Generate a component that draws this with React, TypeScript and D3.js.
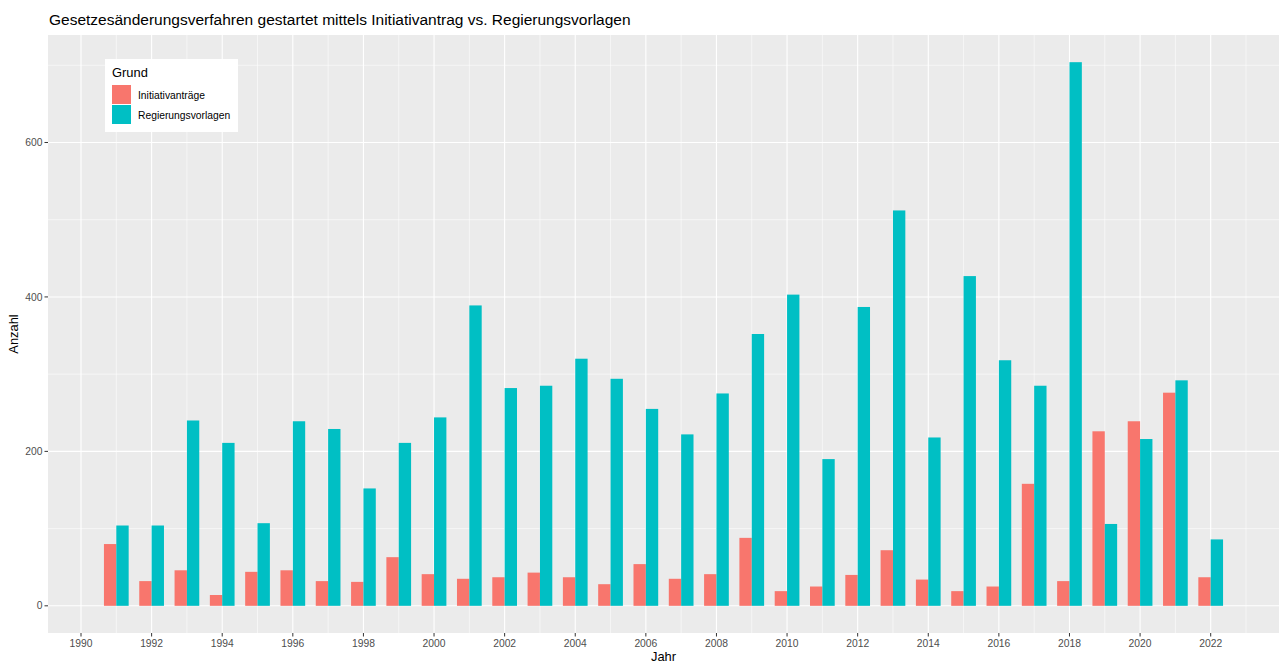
import React, { useRef, useEffect } from "react";
import * as d3 from "d3";

const years = [
  1991, 1992, 1993, 1994, 1995, 1996, 1997, 1998, 1999, 2000, 2001, 2002, 2003, 2004, 2005, 2006,
  2007, 2008, 2009, 2010, 2011, 2012, 2013, 2014, 2015, 2016, 2017, 2018, 2019, 2020, 2021, 2022,
];
const initiativantraege = [
  80, 32, 46, 14, 44, 46, 32, 31, 63, 41, 35, 37, 43, 37, 28, 54,
  35, 41, 88, 19, 25, 40, 72, 34, 19, 25, 158, 32, 226, 239, 276, 37,
];
const regierungsvorlagen = [
  104, 104, 240, 211, 107, 239, 229, 152, 211, 244, 389, 282, 285, 320, 294, 255,
  222, 275, 352, 403, 190, 387, 512, 218, 427, 318, 285, 704, 106, 216, 292, 86,
];
const groups = ["Initiativanträge", "Regierungsvorlagen"];
const colors = ["#F8766D", "#00BFC4"];
const xTicks = d3.range(1990, 2023, 2);
const xMinor = d3.range(1991, 2024, 2);
const yTicks = [0, 200, 400, 600];
const yMinor = [100, 300, 500, 700];

const FONT = "'Liberation Sans', Arial, sans-serif";

const App = () => {
  const ref = useRef<SVGSVGElement>(null);

  useEffect(() => {
    const width = 1279;
    const height = 662;
    const left = 48;
    const right = 1279;
    const top = 35;
    const bottom = 633;
    const half = 0.35;

    const svg = d3.select(ref.current).attr("width", width).attr("height", height);
    svg.selectAll("*").remove();

    // ggplot-style 5% expansion
    const xLo = years[0] - half;
    const xHi = years[years.length - 1] + half;
    const xPad = (xHi - xLo) * 0.05;
    const x = d3.scaleLinear().domain([xLo - xPad, xHi + xPad]).range([left, right]);

    const yMax = d3.max([...initiativantraege, ...regierungsvorlagen]) as number;
    const yPad = yMax * 0.05;
    const y = d3.scaleLinear().domain([-yPad, yMax + yPad]).range([bottom, top]);

    svg.append("rect").attr("width", width).attr("height", height).attr("fill", "#fff");

    svg
      .append("rect")
      .attr("x", left)
      .attr("y", top)
      .attr("width", right - left)
      .attr("height", bottom - top)
      .attr("fill", "#EBEBEB");

    const grid = svg.append("g");
    grid
      .selectAll("line.ymin")
      .data(yMinor)
      .enter()
      .append("line")
      .attr("x1", left)
      .attr("x2", right)
      .attr("y1", (d) => y(d))
      .attr("y2", (d) => y(d))
      .attr("stroke", "#fff")
      .attr("stroke-width", 0.55);
    grid
      .selectAll("line.xmin")
      .data(xMinor)
      .enter()
      .append("line")
      .attr("x1", (d) => x(d))
      .attr("x2", (d) => x(d))
      .attr("y1", top)
      .attr("y2", bottom)
      .attr("stroke", "#fff")
      .attr("stroke-width", 0.55);
    grid
      .selectAll("line.ymaj")
      .data(yTicks)
      .enter()
      .append("line")
      .attr("x1", left)
      .attr("x2", right)
      .attr("y1", (d) => y(d))
      .attr("y2", (d) => y(d))
      .attr("stroke", "#fff")
      .attr("stroke-width", 1.1);
    grid
      .selectAll("line.xmaj")
      .data(xTicks)
      .enter()
      .append("line")
      .attr("x1", (d) => x(d))
      .attr("x2", (d) => x(d))
      .attr("y1", top)
      .attr("y2", bottom)
      .attr("stroke", "#fff")
      .attr("stroke-width", 1.1);

    // bars
    const series = [initiativantraege, regierungsvorlagen];
    series.forEach((vals, i) => {
      svg
        .append("g")
        .selectAll("rect")
        .data(years)
        .enter()
        .append("rect")
        .attr("x", (d) => x(d - half + i * half))
        .attr("width", (d) => x(d + half) - x(d))
        .attr("y", (d, j) => y(vals[j]))
        .attr("height", (d, j) => y(0) - y(vals[j]))
        .attr("fill", colors[i]);
    });

    // axes
    const axisCol = "#4D4D4D";
    const yAxis = svg.append("g");
    yAxis
      .selectAll("line")
      .data(yTicks)
      .enter()
      .append("line")
      .attr("x1", left - 3.5)
      .attr("x2", left)
      .attr("y1", (d) => y(d))
      .attr("y2", (d) => y(d))
      .attr("stroke", "#333")
      .attr("stroke-width", 1);
    yAxis
      .selectAll("text")
      .data(yTicks)
      .enter()
      .append("text")
      .attr("x", left - 5.5)
      .attr("y", (d) => y(d))
      .attr("dy", "0.35em")
      .attr("text-anchor", "end")
      .attr("fill", axisCol)
      .style("font-family", FONT)
      .style("font-size", "10.3px")
      .text((d) => d);

    const xAxis = svg.append("g");
    xAxis
      .selectAll("line")
      .data(xTicks)
      .enter()
      .append("line")
      .attr("x1", (d) => x(d))
      .attr("x2", (d) => x(d))
      .attr("y1", bottom)
      .attr("y2", bottom + 3.5)
      .attr("stroke", "#333")
      .attr("stroke-width", 1);
    xAxis
      .selectAll("text")
      .data(xTicks)
      .enter()
      .append("text")
      .attr("x", (d) => x(d))
      .attr("y", 647)
      .attr("text-anchor", "middle")
      .attr("fill", axisCol)
      .style("font-family", FONT)
      .style("font-size", "10.3px")
      .text((d) => d);

    svg
      .append("text")
      .attr("x", (left + right) / 2)
      .attr("y", 661)
      .attr("text-anchor", "middle")
      .style("font-family", FONT)
      .style("font-size", "12.9px")
      .text("Jahr");

    svg
      .append("text")
      .attr("transform", `translate(18, ${(top + bottom) / 2}) rotate(-90)`)
      .attr("text-anchor", "middle")
      .style("font-family", FONT)
      .style("font-size", "12.9px")
      .text("Anzahl");

    svg
      .append("text")
      .attr("x", 49)
      .attr("y", 25)
      .style("font-family", FONT)
      .style("font-size", "15.5px")
      .text("Gesetzesänderungsverfahren gestartet mittels Initiativantrag vs. Regierungsvorlagen");

    // legend
    const legend = svg.append("g").attr("transform", "translate(105, 59)");
    legend.append("rect").attr("width", 133).attr("height", 73).attr("fill", "#fff");
    legend
      .append("text")
      .attr("x", 7)
      .attr("y", 18)
      .style("font-family", FONT)
      .style("font-size", "12.9px")
      .text("Grund");
    const items = legend
      .selectAll("g.item")
      .data(groups)
      .enter()
      .append("g")
      .attr("transform", (d, i) => `translate(7, ${26 + i * 20})`);
    items
      .append("rect")
      .attr("width", 19)
      .attr("height", 19)
      .attr("fill", (d, i) => colors[i]);
    items
      .append("text")
      .attr("x", 26)
      .attr("y", 10)
      .attr("dy", "0.35em")
      .style("font-family", FONT)
      .style("font-size", "10.3px")
      .text((d) => d);
  }, []);

  return (
    <svg
      ref={ref}
      style={{ position: "absolute", left: 0, top: 0, display: "block" }}
    ></svg>
  );
};

export default App;
